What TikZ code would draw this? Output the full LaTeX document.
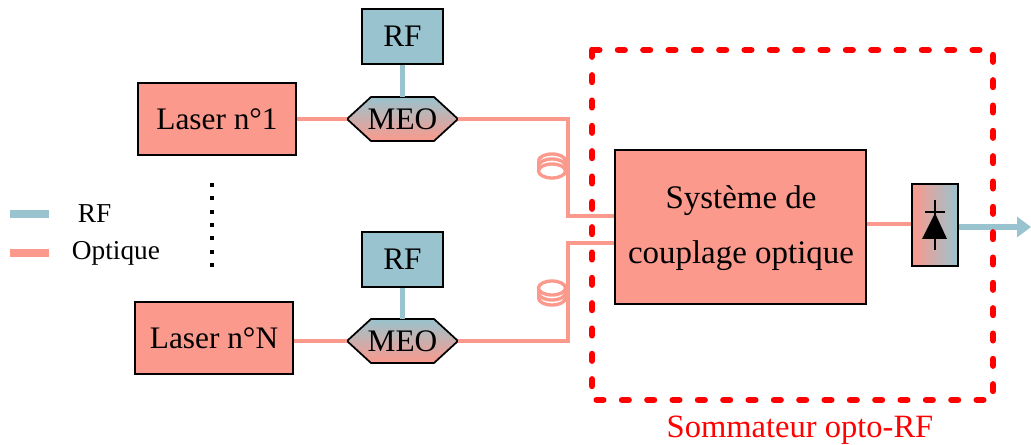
\documentclass[tikz,border=0pt]{standalone}
\usepackage{fontspec}
\setmainfont{Liberation Serif}
\usetikzlibrary{arrows.meta}
\definecolor{rfc}{HTML}{99C3CE}
\definecolor{opt}{HTML}{FB998C}
\newcommand{\lowtxt}[1]{\raisebox{-0.75pt}{#1}}
% stack growing upwards on the page, full ring at the bottom
\newcommand{\coilup}[2]{%
  \draw[coilline] (#1-13.5,#2-10) arc[start angle=180,end angle=360,x radius=13.5,y radius=7];
  \draw[coilline] (#1-13.5,#2-5) arc[start angle=180,end angle=360,x radius=13.5,y radius=7];
  \draw[coilline] (#1-13.5,#2) -- (#1-13.5,#2-10) (#1+13.5,#2) -- (#1+13.5,#2-10);
  \draw[coilline] (#1,#2) ellipse[x radius=13.5,y radius=7];}
% stack growing downwards on the page, full ring at the top
\newcommand{\coildown}[2]{%
  \draw[coilline] (#1-13.5,#2+10) arc[start angle=180,end angle=0,x radius=13.5,y radius=7];
  \draw[coilline] (#1-13.5,#2+5) arc[start angle=180,end angle=0,x radius=13.5,y radius=7];
  \draw[coilline] (#1-13.5,#2) -- (#1-13.5,#2+10) (#1+13.5,#2) -- (#1+13.5,#2+10);
  \draw[coilline] (#1,#2) ellipse[x radius=13.5,y radius=7];}
\newcommand{\meohex}[2]{%
  \path[meoshape] (#1-55.5,#2) -- (#1-31.5,#2-22) -- (#1+31.5,#2-22) -- (#1+55.5,#2) -- (#1+31.5,#2+22) -- (#1-31.5,#2+22) -- cycle;}
\tikzset{
  x=0.75pt,y=-0.75pt,
  box/.style={draw=black,line width=0.9pt,inner sep=0pt,font=\fontsize{23.5}{26}\selectfont,text=black},
  laserbox/.style={box,fill=opt,minimum width=118.5pt,minimum height=54pt},
  rfbox/.style={box,fill=rfc,minimum width=60.75pt,minimum height=41.25pt},
  meoshape/.style={draw=black,line width=1.3pt,line join=miter,top color=rfc,bottom color=opt},
  meobox/.style={inner sep=0pt,outer sep=0pt,font=\fontsize{23.5}{26}\selectfont,minimum width=83.25pt,minimum height=33pt},
  optline/.style={draw=opt,line width=3.4pt},
  rfline/.style={draw=rfc,line width=3.9pt},
  coilline/.style={draw=opt,line width=2.5pt},
  legendlabel/.style={inner sep=0pt,font=\fontsize{20.5}{24}\selectfont},
}
\begin{document}
\begin{tikzpicture}
\useasboundingbox (0,0) rectangle (1031,445);
% boxes
\node[rfbox] (rf1) at (402.5,36.5) {\lowtxt{RF}};
\node[rfbox] (rf2) at (402.5,259.5) {\lowtxt{RF}};
\node[laserbox] (l1) at (217,119) {\lowtxt{Laser n°1}};
\node[laserbox] (l2) at (214,338) {\lowtxt{Laser n°N}};
\meohex{402.5}{119}
\meohex{402.5}{341}
\node[meobox] (m1) at (402.5,119) {\lowtxt{MEO}};
\node[meobox] (m2) at (402.5,341) {\lowtxt{MEO}};
\node[box,fill=opt,minimum width=188.25pt,minimum height=115.5pt] (s) at (740.5,227) {};
\node[inner sep=0pt,align=center,font=\fontsize{24.7}{41.3}\selectfont] (stxt) at (741,228.5) {Système de\\couplage optique};
\node[box,left color=opt,right color=rfc,minimum width=34.5pt,minimum height=61.5pt] (d) at (935,225) {};
% connectors
\draw[rfline] (rf1.south) -- (m1.north);
\draw[rfline] (rf2.south) -- (m2.north);
\draw[optline] (l1.east) -- (m1.west);
\coordinate (l2e) at (l2.east |- m2.west);
\draw[optline] (l2e) -- (m2.west);
\coordinate (s1) at (s.west |- 0,216);
\coordinate (s2) at (s.west |- 0,243);
\draw[optline] (m1.east) -- (568,119) -- (568,216) -- (s1);
\draw[optline] (m2.east) -- (568,341) -- (568,243) -- (s2);
\coordinate (de) at (d.west |- 0,224);
\coordinate (se) at (s.east |- 0,224);
\draw[optline] (se) -- (de);
\coordinate (do) at (d.east |- 0,227);
\coordinate (tip) at (1031,227);
\draw[rfline,-{Triangle[length=10.5pt,width=15pt]}] (do) -- (tip);
% coils
\coilup{552}{171}
\coildown{552}{288}
% diode
\coordinate (da) at (935,213);
\draw[black,line width=1.5pt] (935,200) -- (935,250);
\draw[black,line width=1.5pt] (925,212) -- (945,212);
\fill[black] (da) -- (947,239) -- (922,239) -- cycle;
% summing frame
\draw[red,line width=4.8pt,line cap=round,dash pattern=on 5pt off 14pt] (592,50) rectangle (993,400);
\node[inner sep=0pt,text=red,font=\fontsize{24.4}{28}\selectfont] (sum) at (800,430) {Sommateur opto-RF};
% dots
\coordinate (dt) at (212,183);
\coordinate (db) at (212,268);
\draw[black,line width=2.4pt,dash pattern=on 3pt off 7pt] (dt) -- (db);
% legend
\coordinate (a1) at (10,214);
\coordinate (a2) at (49,214);
\coordinate (b1) at (10,253);
\coordinate (b2) at (49,253);
\draw[draw=rfc,line width=6pt] (a1) -- (a2);
\draw[draw=opt,line width=6pt] (b1) -- (b2);
\node[legendlabel] (lrf) at (94.5,214) {RF};
\node[legendlabel] (lop) at (116,253.5) {Optique};
\end{tikzpicture}
\end{document}
